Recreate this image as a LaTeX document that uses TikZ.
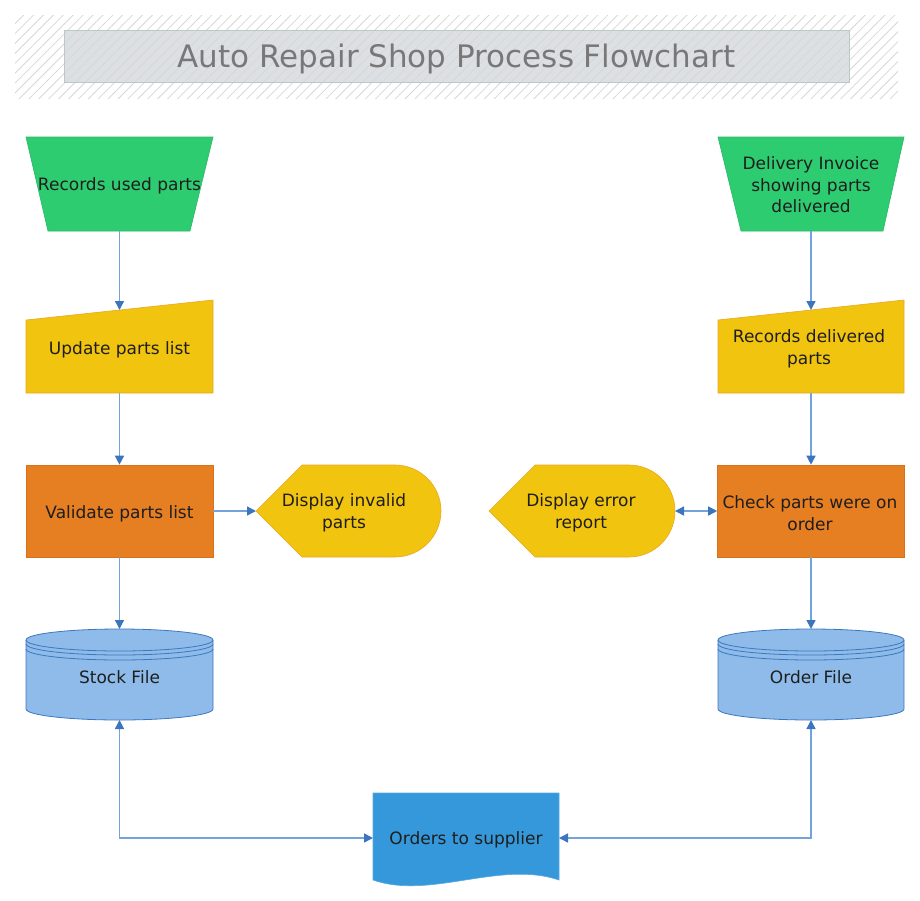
\documentclass[tikz,border=0pt]{standalone}
\usepackage{fontspec}
\setmainfont{DejaVu Sans}
\usetikzlibrary{arrows.meta,patterns.meta}
\definecolor{linec}{HTML}{74A2DA}
\definecolor{tipc}{HTML}{3A75BE}
\definecolor{greenf}{HTML}{2ECC71}
\definecolor{greend}{HTML}{29B765}
\definecolor{yellowf}{HTML}{F1C40F}
\definecolor{yellowd}{HTML}{EDA622}
\definecolor{orangef}{HTML}{E67E22}
\definecolor{oranged}{HTML}{D8701C}
\definecolor{cylf}{HTML}{8EBBEA}
\definecolor{cyld}{HTML}{3D78BE}
\definecolor{docf}{HTML}{3498DB}
\definecolor{docd}{HTML}{5AA9E0}
\definecolor{titlef}{HTML}{D4D8DC}
\definecolor{titled}{HTML}{BCC8C8}
\definecolor{txt}{HTML}{1E1E1E}
\definecolor{titletxt}{HTML}{787878}
\begin{document}
\begin{tikzpicture}[x=1pt,y=-1pt,
  >={Triangle[length=9pt,width=9pt,color=tipc]},
  lbl/.style={font=\fontsize{17}{21.5}\selectfont, text=txt, align=center, inner sep=0pt, yshift=-2pt},
  conn/.style={draw=linec, line width=1.4pt},
  greenshape/.style={fill=greenf, draw=greend, line width=0.6pt},
  yellowshape/.style={fill=yellowf, draw=yellowd, line width=0.6pt},
  procbox/.style={fill=orangef, draw=oranged, line width=0.6pt, minimum width=187pt, minimum height=92pt, inner sep=0pt},
  docshape/.style={fill=docf, draw=docd, line width=0.6pt}]
\useasboundingbox (0,0) rectangle (920,900);
% title band
\fill[pattern={Lines[angle=45,distance=7pt,line width=0.8pt]}, pattern color=gray!32] (15,15) rectangle (898,98);
\node[draw=titled, fill=titlef, fill opacity=0.8, line width=0.8pt,
      minimum width=785pt, minimum height=52pt, inner sep=0pt] (title) at (456.5,56) {};
\node[font=\fontsize{31}{36}\selectfont, text=titletxt, inner sep=0pt] (titleT) at (456.5,59) {Auto Repair Shop Process Flowchart};

% left column
\draw[greenshape] (26,137) -- (213,137) -- (190,231) -- (48,231) -- cycle;
\node[lbl] (rup) at (119.5,184) {Records used parts};
\coordinate (rupB) at (119.5,231);

\draw[yellowshape] (26,320) -- (213,300) -- (213,393) -- (26,393) -- cycle;
\node[lbl] (upl) at (119.5,348) {Update parts list};
\coordinate (uplT) at (119.5,310);
\coordinate (uplB) at (119.5,393);

\node[procbox] (vpl) at (119.5,511) {};
\node[lbl] (vplT) at (119.5,512) {Validate parts list};

\draw[yellowshape] (256,511) -- (302,465) -- (395,465) arc[start angle=90,end angle=-90,radius=46pt] -- (302,557) -- cycle;
\node[lbl] (dip) at (344,511) {Display invalid\\parts};
\coordinate (dipW) at (256,511);

\fill[cylf] (26,640) -- (26,709) arc[start angle=180,end angle=360,x radius=93.5pt,y radius=11pt] -- (213,640) arc[start angle=0,end angle=180,x radius=93.5pt,y radius=11pt] -- cycle;
\draw[cyld, line width=0.8pt] (26,640) -- (26,709) arc[start angle=180,end angle=360,x radius=93.5pt,y radius=11pt] -- (213,640);
\draw[cyld, line width=0.8pt] (119.5,640) ellipse[x radius=93.5pt,y radius=11pt];
\draw[cyld, line width=0.8pt] (26,644) arc[start angle=180,end angle=360,x radius=93.5pt,y radius=11pt];
\draw[cyld, line width=0.8pt] (26,649) arc[start angle=180,end angle=360,x radius=93.5pt,y radius=11pt];
\node[lbl] (sf) at (119.5,675) {Stock File};
\coordinate (sfT) at (119.5,629);
\coordinate (sfB) at (119.5,720);

% right column
\draw[greenshape] (718,137) -- (904,137) -- (883,231) -- (741,231) -- cycle;
\node[lbl] (dinv) at (811,183) {Delivery Invoice\\showing parts\\delivered};
\coordinate (dinvB) at (811,231);

\draw[yellowshape] (718,320) -- (904,300) -- (904,393) -- (718,393) -- cycle;
\node[lbl] (rdp) at (809,347) {Records delivered\\parts};
\coordinate (rdpT) at (811,310);
\coordinate (rdpB) at (811,393);

\node[procbox] (cpo) at (811,511) {};
\node[lbl] (cpoT) at (810,511) {Check parts were on\\order};

\draw[yellowshape] (489,511) -- (535,465) -- (629,465) arc[start angle=90,end angle=-90,radius=46pt] -- (535,557) -- cycle;
\node[lbl] (der) at (581,511) {Display error\\report};
\coordinate (derE) at (675,511);

\fill[cylf] (718,640) -- (718,709) arc[start angle=180,end angle=360,x radius=93pt,y radius=11pt] -- (904,640) arc[start angle=0,end angle=180,x radius=93pt,y radius=11pt] -- cycle;
\draw[cyld, line width=0.8pt] (718,640) -- (718,709) arc[start angle=180,end angle=360,x radius=93pt,y radius=11pt] -- (904,640);
\draw[cyld, line width=0.8pt] (811,640) ellipse[x radius=93pt,y radius=11pt];
\draw[cyld, line width=0.8pt] (718,644) arc[start angle=180,end angle=360,x radius=93pt,y radius=11pt];
\draw[cyld, line width=0.8pt] (718,649) arc[start angle=180,end angle=360,x radius=93pt,y radius=11pt];
\node[lbl] (of) at (811,675) {Order File};
\coordinate (ofT) at (811,629);
\coordinate (ofB) at (811,720);

% document
\draw[docshape] (373,793) -- (559,793) -- (559,880) .. controls (500,860) and (430,900) .. (373,880) -- cycle;
\node[lbl] (ots) at (466,838) {Orders to supplier};
\coordinate (otsW) at (373,838);
\coordinate (otsE) at (559,838);

% connectors
\draw[conn,->] (rupB) -- (uplT);
\draw[conn,->] (uplB) -- (vpl.north);
\draw[conn,->] (vpl.east) -- (dipW);
\draw[conn,->] (vpl.south) -- (sfT);
\draw[conn,->] (dinvB) -- (rdpT);
\draw[conn,->] (rdpB) -- (cpo.north);
\draw[conn,<->] (derE) -- (cpo.west);
\draw[conn,->] (cpo.south) -- (ofT);
\draw[conn,<->] (sfB) |- (otsW);
\draw[conn,<->] (ofB) |- (otsE);
\end{tikzpicture}
\end{document}
